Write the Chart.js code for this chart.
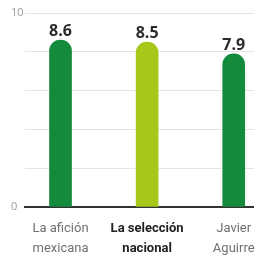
<!DOCTYPE html>
<html><head><meta charset="utf-8">
<script src="https://cdn.jsdelivr.net/npm/chart.js@4/dist/chart.umd.min.js"></script>
<style>html,body{margin:0;padding:0;background:#fff}#w{width:267px;height:264px}</style>
</head><body><div id="w"><canvas id="c"></canvas></div>
<script>
const categories = [["La afición","mexicana"],["La selección","nacional"],["Javier","Aguirre"]];
const values = [8.6, 8.5, 7.9];
const barColors = ["#138a3c", "#a6c81b", "#138a3c"];
const yTickLabels = {0: "0", 10: "10"};
const highlighted = 1;

const valueLabels = {
  id: "valueLabels",
  afterDatasetsDraw(chart) {
    const ctx = chart.ctx;
    const meta = chart.getDatasetMeta(0);
    ctx.save();
    ctx.font = "bold 16px 'Open Sans', sans-serif";
    ctx.fillStyle = "#2b2b2b";
    ctx.textAlign = "center";
    ctx.textBaseline = "alphabetic";
    meta.data.forEach((bar, i) => {
      ctx.fillText(values[i].toFixed(1), bar.x, bar.y - 4);
    });
    ctx.restore();
  }
};

new Chart(document.getElementById("c"), {
  type: "bar",
  data: {
    datasets: [{
      data: values.map((v, i) => ({x: i, y: v})),
      backgroundColor: barColors,
      barThickness: 22,
      borderRadius: {topLeft: 11, topRight: 11, bottomLeft: 0, bottomRight: 0},
      borderSkipped: "bottom"
    }]
  },
  options: {
    responsive: true,
    maintainAspectRatio: false,
    animation: false,
    layout: {padding: {top: 13, right: 5, left: 11, bottom: 0}},
    plugins: {legend: {display: false}, tooltip: {enabled: false}},
    scales: {
      x: {
        type: "linear",
        offset: false,
        min: -0.41,
        max: 2.23,
        z: 1,
        afterBuildTicks(scale) { scale.ticks = categories.map((c, i) => ({value: i})); },
        afterFit(scale) { scale.height = 57; },
        grid: {display: false, drawTicks: false, offset: false},
        border: {display: true, color: "#333333", width: 2},
        ticks: {
          padding: 12,
          autoSkip: false,
          maxRotation: 0,
          callback: (v) => categories[v],
          color: (c) => c.index === highlighted ? "#222222" : "#707070",
          font: (c) => ({
            family: "Roboto, sans-serif",
            size: 13,
            weight: c.index === highlighted ? "bold" : "normal",
            lineHeight: 20 / 13
          })
        }
      },
      y: {
        min: 0,
        max: 10,
        afterFit(scale) { scale.width = 14; },
        grid: {color: "#e4e4e4", lineWidth: 1, drawTicks: false},
        border: {display: false},
        ticks: {
          stepSize: 2,
          padding: 3,
          crossAlign: "far",
          color: "#9a9a9a",
          font: {family: "'Open Sans', sans-serif", size: 11},
          callback: (v) => (v in yTickLabels ? yTickLabels[v] : "")
        }
      }
    }
  },
  plugins: [valueLabels]
});
</script>
</body></html>
